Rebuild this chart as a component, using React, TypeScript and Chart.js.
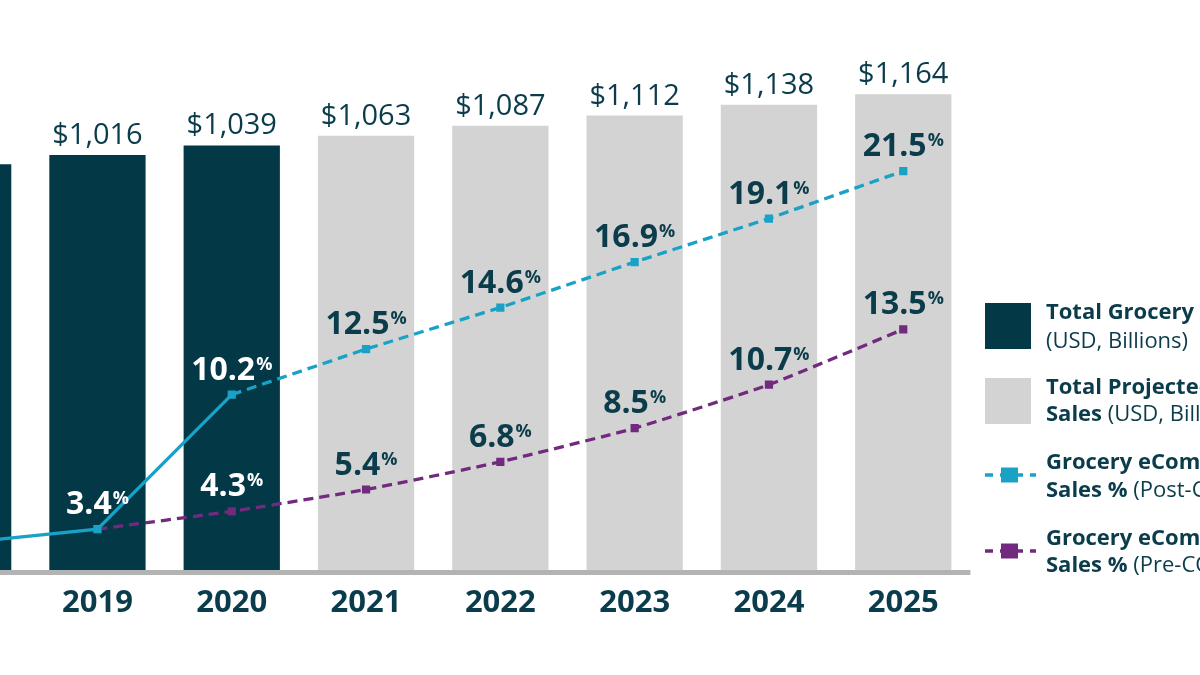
import React, { useEffect, useRef } from "react";
import { Chart, registerables } from "chart.js";

Chart.register(...registerables);

const years = ["2018", "2019", "2020", "2021", "2022", "2023", "2024", "2025"];
const actualSales = [993, 1016, 1039, null, null, null, null, null];
const projectedSales = [null, null, null, 1063, 1087, 1112, 1138, 1164];
const postCovidPct = [2.7, 3.4, 10.2, 12.5, 14.6, 16.9, 19.1, 21.5];
const preCovidPct = [null, 3.4, 4.3, 5.4, 6.8, 8.5, 10.7, 13.5];

const legendItems = [
  { kind: "box", color: "#033846", line1: [["Total Grocery Sales", true]], line2: [["(USD, Billions)", false]] },
  { kind: "box", color: "#d3d3d3", line1: [["Total Projected Grocery", true]], line2: [["Sales", true], [" (USD, Billions)", false]] },
  { kind: "line", color: "#1aa2c6", line1: [["Grocery eCommerce", true]], line2: [["Sales %", true], [" (Post-COVID)", false]] },
  { kind: "line", color: "#722a7e", line1: [["Grocery eCommerce", true]], line2: [["Sales %", true], [" (Pre-COVID)", false]] },
];

const DARK = "#033846";
const GRAY = "#d3d3d3";
const TEAL = "#1aa2c6";
const PURPLE = "#722a7e";
const TEXT = "#0b3c4b";
const AXIS = "#b3b3b3";
const FONT = "'Open Sans', sans-serif";
const DASH = [10, 6];

const OFFSET_X = 104; // canvas shifted left so that the first bar is cut off

function fmtMoney(v: number) {
  return "$" + v.toLocaleString("en-US");
}

function drawPct(ctx: CanvasRenderingContext2D, cx: number, baseline: number, value: number, color: string) {
  const num = value.toFixed(1);
  ctx.font = `bold 32px ${FONT}`;
  const wn = ctx.measureText(num).width;
  ctx.font = `bold 18px ${FONT}`;
  const wp = ctx.measureText("%").width;
  const total = wn + wp + 1;
  const x0 = cx - total / 2;
  ctx.fillStyle = color;
  ctx.textAlign = "left";
  ctx.textBaseline = "alphabetic";
  ctx.font = `bold 32px ${FONT}`;
  ctx.fillText(num, x0, baseline);
  ctx.font = `bold 18px ${FONT}`;
  ctx.fillText("%", x0 + wn + 1, baseline - 10);
}

const overlay = {
  id: "overlay",
  afterDatasetsDraw(chart: any) {
    const ctx: CanvasRenderingContext2D = chart.ctx;
    const xs = chart.scales.x;
    const ys = chart.scales.y;
    const y1 = chart.scales.y1;
    const area = chart.chartArea;
    ctx.save();

    // axis line
    ctx.strokeStyle = AXIS;
    ctx.lineWidth = 5;
    ctx.beginPath();
    ctx.moveTo(area.left, area.bottom + 0.5);
    ctx.lineTo(area.right, area.bottom + 0.5);
    ctx.stroke();

    // year labels
    ctx.fillStyle = TEXT;
    ctx.font = `bold 31px ${FONT}`;
    ctx.textAlign = "center";
    ctx.textBaseline = "alphabetic";
    years.forEach((yr, i) => {
      ctx.fillText(yr, xs.getPixelForValue(i), area.bottom + 40);
    });

    // bar value labels
    years.forEach((_, i) => {
      const v = actualSales[i] ?? projectedSales[i];
      if (v == null) return;
      ctx.font = `29px ${FONT}`;
      ctx.fillStyle = TEXT;
      ctx.textAlign = "center";
      ctx.fillText(fmtMoney(v), xs.getPixelForValue(i), ys.getPixelForValue(v) - 11);
    });

    // percentage labels
    years.forEach((_, i) => {
      const onDark = actualSales[i] != null;
      const col = onDark ? "#ffffff" : TEXT;
      const p = postCovidPct[i];
      if (p != null) drawPct(ctx, xs.getPixelForValue(i), y1.getPixelForValue(p) - 15, p, col);
      const q = preCovidPct[i];
      if (q != null && q !== p) drawPct(ctx, xs.getPixelForValue(i), y1.getPixelForValue(q) - 15, q, col);
    });

    // legend
    const lx = 985 + OFFSET_X;
    const tx = 1046 + OFFSET_X;
    const tops = [303, 378];
    const lineYs = [475, 551];
    const base1 = [319, 394, 469, 545];
    const base2 = [348, 421, 497, 572];
    legendItems.forEach((it, k) => {
      if (it.kind === "box") {
        ctx.fillStyle = it.color;
        ctx.fillRect(lx, tops[k], 46, 46);
      } else {
        const ly = lineYs[k - 2];
        ctx.strokeStyle = it.color;
        ctx.lineWidth = 3.3;
        ctx.setLineDash([8, 7]);
        ctx.beginPath();
        ctx.moveTo(lx, ly);
        ctx.lineTo(lx + 51, ly);
        ctx.stroke();
        ctx.setLineDash([]);
        ctx.fillStyle = it.color;
        ctx.fillRect(lx + 16, ly - 7.5, 17, 15);
      }
      const runs = [it.line1, it.line2];
      runs.forEach((line, li) => {
        let x = tx;
        const by = li === 0 ? base1[k] : base2[k];
        ctx.textAlign = "left";
        ctx.fillStyle = TEXT;
        (line as any[]).forEach(([t, b]) => {
          ctx.font = `${b ? "bold " : ""}22px ${FONT}`;
          ctx.fillText(t, x, by);
          x += ctx.measureText(t).width;
        });
      });
    });

    ctx.restore();
  },
};

export default function App() {
  const ref = useRef<HTMLCanvasElement | null>(null);
  useEffect(() => {
    if (!ref.current) return;
    const chart = new Chart(ref.current, {
      type: "bar",
      data: {
        labels: years,
        datasets: [
          {
            type: "line",
            label: "Grocery eCommerce Sales % (Post-COVID)",
            data: postCovidPct as any,
            yAxisID: "y1",
            borderColor: TEAL,
            backgroundColor: TEAL,
            borderWidth: 3.3,
            pointStyle: "rect",
            pointRadius: 5.8,
            pointBorderWidth: 0,
            pointBackgroundColor: TEAL,
            tension: 0,
            segment: {
              borderDash: (c: any) => (c.p0DataIndex >= 2 ? DASH : undefined),
            },
            order: 1,
          } as any,
          {
            type: "line",
            label: "Grocery eCommerce Sales % (Pre-COVID)",
            data: preCovidPct as any,
            yAxisID: "y1",
            borderColor: PURPLE,
            backgroundColor: PURPLE,
            borderWidth: 3.3,
            borderDash: DASH,
            pointStyle: "rect",
            pointRadius: 5.8,
            pointBorderWidth: 0,
            pointBackgroundColor: PURPLE,
            tension: 0.15,
            order: 2,
          } as any,
          {
            type: "bar",
            label: "Total Grocery Sales (USD, Billions)",
            data: actualSales as any,
            backgroundColor: DARK,
            grouped: false,
            barPercentage: 0.717,
            categoryPercentage: 1,
            order: 3,
          } as any,
          {
            type: "bar",
            label: "Total Projected Grocery Sales (USD, Billions)",
            data: projectedSales as any,
            backgroundColor: GRAY,
            grouped: false,
            barPercentage: 0.717,
            categoryPercentage: 1,
            order: 4,
          } as any,
        ],
      },
      options: {
        animation: false,
        responsive: false,
        layout: { autoPadding: false, padding: { left: 0, right: 229.6, top: 38.35, bottom: 103 } },
        plugins: { legend: { display: false }, tooltip: { enabled: false } },
        scales: {
          x: { display: false, offset: true },
          y: { display: false, min: 0, max: 1300 },
          y1: { display: false, min: 1.23, max: 28.21, position: "right" },
        },
      },
      plugins: [overlay],
    });
    return () => chart.destroy();
  }, []);
  return (
    <div style={{ position: "absolute", left: -OFFSET_X, top: 0, width: 1200 + OFFSET_X, height: 675, background: "#fff" }}>
      <canvas ref={ref} width={1200 + OFFSET_X} height={675} style={{ display: "block" }} />
    </div>
  );
}
